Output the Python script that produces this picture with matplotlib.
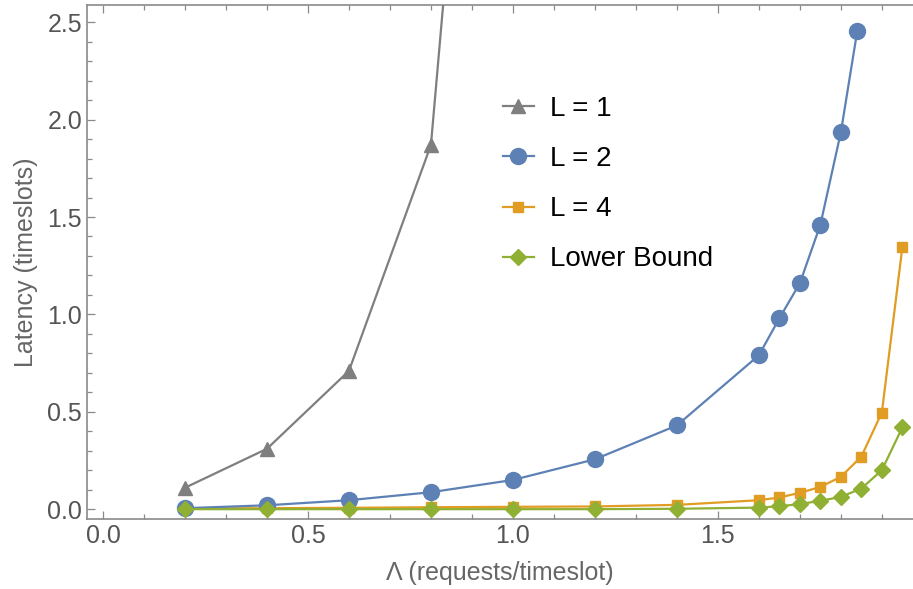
import matplotlib.pyplot as plt
from matplotlib.ticker import MultipleLocator

# Arrival rate (requests/timeslot) for each series
x_l1 = [0.2, 0.4, 0.6, 0.8, 1.0]
x_l2 = [0.2, 0.4, 0.6, 0.8, 1.0, 1.2, 1.4, 1.6, 1.65, 1.7, 1.75, 1.8, 1.84]
x_l4 = [0.2, 0.4, 0.6, 0.8, 1.0, 1.2, 1.4, 1.6, 1.65, 1.7, 1.75, 1.8, 1.85, 1.9, 1.95]
x_lb = [0.2, 0.4, 0.6, 0.8, 1.0, 1.2, 1.4, 1.6, 1.65, 1.7, 1.75, 1.8, 1.85, 1.9, 1.95]

# Latency (timeslots)
lat_l1 = [0.11, 0.31, 0.71, 1.87, 6.7]
lat_l2 = [0.005, 0.02, 0.046, 0.087, 0.15, 0.256, 0.43, 0.79, 0.98, 1.16, 1.46, 1.935, 2.455]
lat_l4 = [0.004, 0.005, 0.007, 0.01, 0.012, 0.014, 0.022, 0.046, 0.06, 0.084, 0.114,
          0.166, 0.27, 0.496, 1.344]
lat_lb = [0.0, 0.0, 0.0, 0.0, 0.0, 0.0, 0.002, 0.008, 0.015, 0.026, 0.043, 0.063,
          0.106, 0.2, 0.42]

labels = ["L = 1", "L = 2", "L = 4", "Lower Bound"]

plt.rcParams['font.family'] = ['Liberation Sans', 'DejaVu Sans']

fig = plt.figure(figsize=(9.13, 5.89), dpi=100)
ax = fig.add_axes([0.0953, 0.119, 0.9047, 0.873])

ax.plot(x_l1, lat_l1, color='#7f7f7f', marker='^', markersize=10, linewidth=1.6,
        label=labels[0], zorder=3)
ax.plot(x_l2, lat_l2, color='#5e81b5', marker='o', markersize=11.5, linewidth=1.6,
        label=labels[1], zorder=4)
ax.plot(x_l4, lat_l4, color='#e19c24', marker='s', markersize=7.5, linewidth=1.6,
        label=labels[2], zorder=3)
ax.plot(x_lb, lat_lb, color='#8fb032', marker='D', markersize=8.5, linewidth=1.6,
        label=labels[3], zorder=5)

ax.set_xlim(-0.039, 1.976)
ax.set_ylim(-0.05, 2.59)

ax.xaxis.set_major_locator(MultipleLocator(0.5))
ax.xaxis.set_minor_locator(MultipleLocator(0.1))
ax.yaxis.set_major_locator(MultipleLocator(0.5))
ax.yaxis.set_minor_locator(MultipleLocator(0.1))
ax.xaxis.set_major_formatter(lambda v, p: f"{v:.1f}")
ax.yaxis.set_major_formatter(lambda v, p: f"{v:.1f}")

ax.tick_params(which='both', direction='in', top=True, right=False, color='#8a8a8a',
               width=0.9, labelsize=18, labelcolor='#555555')
ax.tick_params(which='major', length=6)
ax.tick_params(which='minor', length=3.5)
ax.tick_params(axis='x', which='major', pad=4)
ax.tick_params(axis='y', which='major', pad=3.5)

for side in ['left', 'bottom', 'top']:
    ax.spines[side].set_color('#8a8a8a')
    ax.spines[side].set_linewidth(1.2)
ax.spines['right'].set_visible(False)

ax.set_xlabel("Λ (requests/timeslot)", fontsize=18, color='#666666', labelpad=9)
ax.set_ylabel("Latency (timeslots)", fontsize=18, color='#666666', labelpad=7)

ax.legend(loc='upper left', bbox_to_anchor=(503 / 913, 1 - 96 / 589),
          bbox_transform=fig.transFigure, frameon=False, fontsize=20,
          borderpad=0, borderaxespad=0, handlelength=1.1, handletextpad=0.6,
          labelspacing=0.87, numpoints=1)

fig.savefig("out.png", dpi=100)
